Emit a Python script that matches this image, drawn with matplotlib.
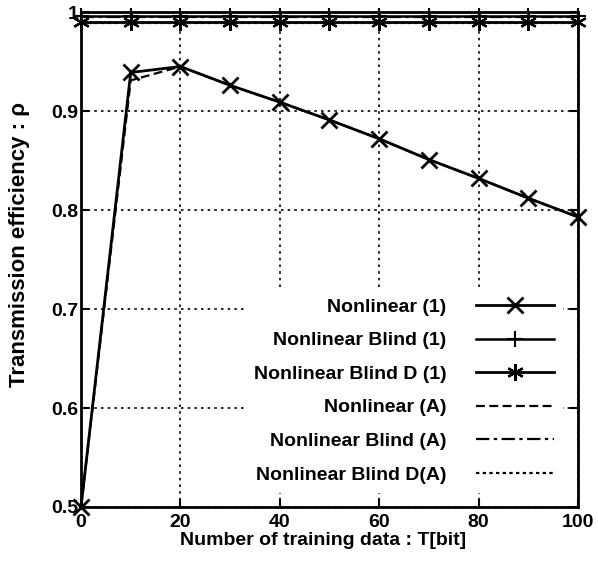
import matplotlib.pyplot as plt
from matplotlib.ticker import MultipleLocator

plt.rcParams['font.family'] = ['Liberation Sans', 'DejaVu Sans']
plt.rcParams['font.weight'] = 'bold'
plt.rcParams['axes.labelweight'] = 'bold'

# Training data length T[bit]
T = [0, 10, 20, 30, 40, 50, 60, 70, 80, 90, 100]

# Transmission efficiency values
nonlinear_1 = [0.5, 0.939, 0.945, 0.926, 0.909, 0.891, 0.872, 0.851, 0.832, 0.812, 0.793]
blind_1 = [0.996, 0.996, 0.996, 0.996, 0.996, 0.996, 0.996, 0.996, 0.996, 0.996, 0.996]
blind_d_1 = [0.990, 0.990, 0.990, 0.990, 0.990, 0.990, 0.990, 0.990, 0.990, 0.990, 0.990]
nonlinear_a = [0.5, 0.931, 0.945, 0.926, 0.909, 0.891, 0.872, 0.851, 0.832, 0.812, 0.793]
blind_a = [0.995, 0.995, 0.995, 0.995, 0.995, 0.995, 0.995, 0.995, 0.995, 0.995, 0.995]
blind_d_a = [0.989, 0.989, 0.989, 0.989, 0.989, 0.989, 0.989, 0.989, 0.989, 0.989, 0.989]

fig = plt.figure(figsize=(5.98, 5.63), dpi=100)
ax = fig.add_axes([0.1355, 0.0995, 0.831, 0.879])

ax.plot(T, nonlinear_1, color='black', lw=2, marker='x', ms=11, mew=2, clip_on=False, label='Nonlinear (1)')
ax.plot(T, blind_1, color='black', lw=1.8, marker='+', ms=12, mew=1.5, clip_on=False, label='Nonlinear Blind (1)')
ax.plot(T, blind_d_1, color='black', lw=2, marker=(6, 2, 0), ms=12, mew=1.6, clip_on=False, label='Nonlinear Blind D (1)')
ax.plot(T, nonlinear_a, color='black', lw=1.6, ls=(0, (4, 2)), label='Nonlinear (A)')
ax.plot(T, blind_a, color='black', lw=1.6, ls=(0, (6, 2, 1.5, 2)), label='Nonlinear Blind (A)')
ax.plot(T, blind_d_a, color='black', lw=1.6, ls=(0, (1.5, 1.5)), label='Nonlinear Blind D(A)')

ax.set_xlim(0, 100)
ax.set_ylim(0.5, 1.0)
ax.xaxis.set_major_locator(MultipleLocator(20))
ax.set_yticks([0.5, 0.6, 0.7, 0.8, 0.9, 1.0])
ax.set_yticklabels(['0.5', '0.6', '0.7', '0.8', '0.9', '1'])
ax.grid(True, color='black', ls=(0, (1.5, 2.5)), lw=1.2)
ax.tick_params(direction='in', top=True, right=True, length=6, width=1.5, labelsize=14)
ax.tick_params(axis='x', pad=5)
ax.tick_params(axis='y', pad=2)
for s in ax.spines.values():
    s.set_linewidth(2)

ax.set_xlabel('Number of training data : T[bit]', fontsize=14)
ax.set_ylabel('Transmission efficiency : ρ', fontsize=16)
ax.xaxis.set_label_coords(0.487, -0.05)
ax.yaxis.set_label_coords(-0.103, 0.531)

leg = ax.legend(loc='lower right', bbox_to_anchor=(0.99, 0.008), markerfirst=False, frameon=True,
                fontsize=14, handlelength=4.0, labelspacing=0.82, borderpad=0.5, handletextpad=1.5)
leg.get_frame().set_edgecolor('none')
leg.get_frame().set_facecolor('white')
leg.get_frame().set_alpha(1)
leg.get_frame().set_boxstyle('square', pad=0)
for t in leg.get_texts():
    t.set_ha('right')
leg._legend_box.align = 'right'

fig.savefig('out.png', dpi=100)
